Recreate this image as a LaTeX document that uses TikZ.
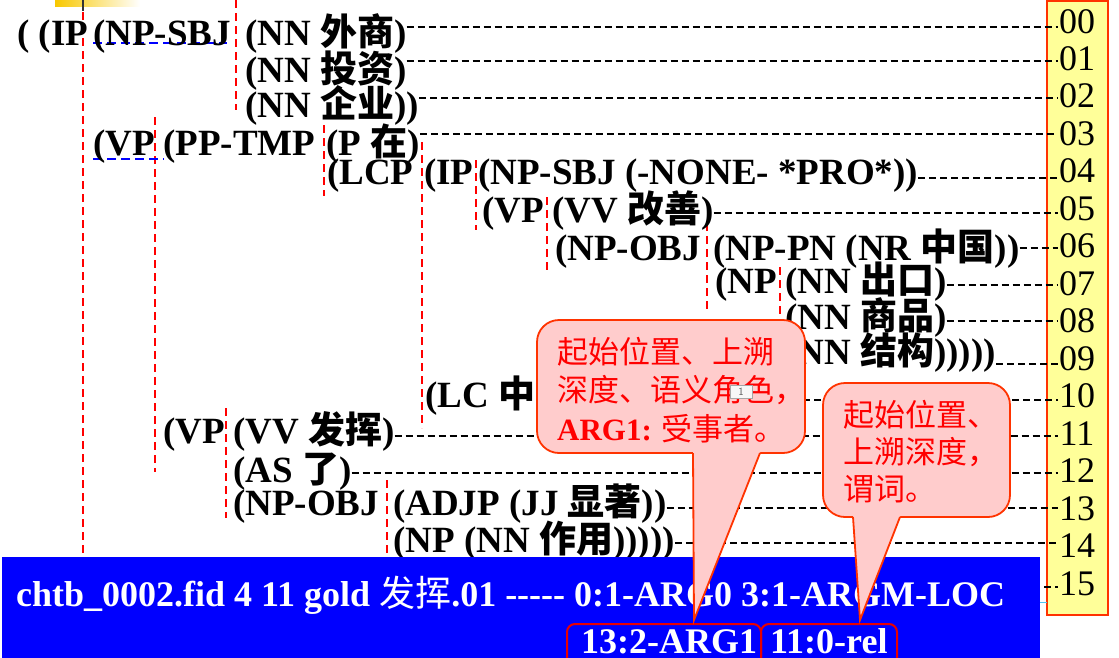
\documentclass[tikz,border=0pt]{standalone}
\usepackage{fontspec}
\setmainfont{Liberation Serif}
\newfontfamily\cjk{Noto Sans CJK SC}
\definecolor{cpink}{HTML}{FFCCCC}
\definecolor{cborder}{HTML}{FF3300}
\definecolor{ylw}{HTML}{FFFF99}
\definecolor{goldbar}{HTML}{F8C800}
\definecolor{pureblue}{HTML}{0000FF}
\definecolor{boxred}{HTML}{E80000}
\newcommand{\zh}[1]{{\cjk #1}}
\begin{document}
\begin{tikzpicture}[x=1pt,y=-1pt,
  tt/.style={inner sep=0pt, anchor=base west, font=\fontsize{37}{42}\selectfont\bfseries},
  num/.style={inner sep=1pt, anchor=base, font=\fontsize{36}{40}\selectfont},
  hdash/.style={draw=black, line width=1.6pt, dash pattern=on 7pt off 4pt},
  vdash/.style={draw=red, line width=2pt, dash pattern=on 8pt off 5pt},
  udash/.style={draw=blue, line width=1.8pt, dash pattern=on 9pt off 5pt},
  callbox/.style={draw=cborder, fill=cpink, line width=1.8pt, rounded corners=22pt},
  ctext/.style={inner sep=0pt, anchor=base west, text=red, font=\fontsize{31}{36}\selectfont\cjk},
  btext/.style={inner sep=0pt, anchor=base west, text=white, font=\fontsize{36}{40}\selectfont\bfseries},
  rbox/.style={draw=boxred, line width=2pt, rounded corners=8pt, inner sep=0pt}]
\useasboundingbox (0,0) rectangle (1119,657);
\clip (0,0) rectangle (1119,657);
\fill[white] (0,0) rectangle (1119,657);

% top decoration
\shade[left color=goldbar, right color=white] (55,0) rectangle (140,6);
\draw[line width=2.5pt, black!80] (83,0) -- (83,11);

% yellow number column
\draw[fill=ylw, draw=cborder, line width=1.5pt] (1047,0.8) rectangle (1108,615);
\foreach \i/\lab in {0/00,1/01,2/02,3/03,4/04,5/05,6/06,7/07,8/08,9/09,10/10,11/11,12/12,13/13,14/14,15/15}
  \node[num] (n\lab) at (1077,{33+37.47*\i}) {\lab};

% red dashed verticals
\draw[vdash] (83,12) -- (83,560);
\draw[vdash] (236,0) -- (236,110);
\draw[vdash] (155,117) -- (155,472);
\draw[vdash] (324,125) -- (324,196);
\draw[vdash] (422,142) -- (422,428);
\draw[vdash] (476,160) -- (476,230);
\draw[vdash] (547,197) -- (547,272);
\draw[vdash] (707,223) -- (707,312);
\draw[vdash] (780,267) -- (780,330);
\draw[vdash] (226,408) -- (226,518);
\draw[vdash] (387,480) -- (387,560);

% blue dashed underlines
\draw[udash] (93,43) -- (227,43);
\draw[udash] (93,159) -- (164,159);

% tree text
\node[tt] (t00a) at (17,45) {( (IP};
\node[tt] (t00b) at (93,45) {(NP-SBJ};
\node[tt] (t00c) at (245,45) {(NN \zh{外商})};
\node[tt] (t01) at (245,82) {(NN \zh{投资})};
\node[tt] (t02) at (245,117) {(NN \zh{企业}))};
\node[tt] (t03a) at (93,155) {(VP};
\node[tt] (t03b) at (163,155) {(PP-TMP};
\node[tt] (t03c) at (326,155) {(P \zh{在})};
\node[tt] (t04a) at (327,184) {(LCP};
\node[tt] (t04b) at (424,184) {(IP};
\node[tt] (t04c) at (478,184) {(NP-SBJ (-NONE- *PRO*))};
\node[tt] (t05a) at (482,222) {(VP};
\node[tt] (t05b) at (552,222) {(VV \zh{改善})};
\node[tt] (t06a) at (555,260) {(NP-OBJ};
\node[tt] (t06b) at (713,260) {(NP-PN (NR \zh{中国}))};
\node[tt] (t07a) at (715,293) {(NP};
\node[tt] (t07b) at (785,293) {(NN \zh{出口})};
\node[tt] (t08) at (785,329) {(NN \zh{商品})};
\node[tt] (t09) at (785,364) {(NN \zh{结构})))))};
\node[tt] (t10) at (425,407) {(LC \zh{中})))};
\node[tt] (t11a) at (163,443) {(VP};
\node[tt] (t11b) at (233,443) {(VV \zh{发挥})};
\node[tt] (t12) at (233,482) {(AS \zh{了})};
\node[tt] (t13a) at (233,515) {(NP-OBJ};
\node[tt] (t13b) at (393,515) {(ADJP (JJ \zh{显著}))};
\node[tt] (t14) at (393,552) {(NP (NN \zh{作用})))))};

% horizontal dashed leaders
\coordinate (y00) at (0,27);  \coordinate (y01) at (0,61);
\coordinate (y02) at (0,98);  \coordinate (y03) at (0,134);
\coordinate (y04) at (0,178); \coordinate (y05) at (0,213);
\coordinate (y06) at (0,248); \coordinate (y07) at (0,285);
\coordinate (y08) at (0,321); \coordinate (y09) at (0,364);
\coordinate (y10) at (0,400); \coordinate (y11) at (0,436);
\coordinate (y12) at (0,473); \coordinate (y13) at (0,508);
\coordinate (y14) at (0,543); \coordinate (s15) at (1000,587);
\draw[hdash] (t00c.east |- y00) -- (n00.west |- y00);
\draw[hdash] (t01.east |- y01) -- (n01.west |- y01);
\draw[hdash] (t02.east |- y02) -- (n02.west |- y02);
\draw[hdash] (t03c.east |- y03) -- (n03.west |- y03);
\draw[hdash] (t04c.east |- y04) -- (n04.west |- y04);
\draw[hdash] (t05b.east |- y05) -- (n05.west |- y05);
\draw[hdash] (t06b.east |- y06) -- (n06.west |- y06);
\draw[hdash] (t07b.east |- y07) -- (n07.west |- y07);
\draw[hdash] (t08.east |- y08) -- (n08.west |- y08);
\draw[hdash] (t09.east |- y09) -- (n09.west |- y09);
\draw[hdash] (t10.east |- y10) -- (n10.west |- y10);
\draw[hdash] (t11b.east |- y11) -- (n11.west |- y11);
\draw[hdash] (t12.east |- y12) -- (n12.west |- y12);
\draw[hdash] (t13b.east |- y13) -- (n13.west |- y13);
\draw[hdash] (t14.east |- y14) -- (n14.west |- y14);
\draw[hdash] (s15) -- (n15.west |- s15);

% blue bar
\fill[pureblue] (2,557) rectangle (1040,660);
\draw[cyan!70, line width=1pt] (1040,602) -- (1047,602);
\node[btext] (bt) at (16,606) {chtb\_0002.fid 4 11 gold {\cjk\mdseries 发挥}.01 -{}-{}-{}-{}- 0:1-ARG0 3:1-ARGM-LOC};
\node[rbox, anchor=north west, minimum width=194pt, minimum height=60pt] (b1) at (566,623) {};
\node[btext] (b1t) at (581,653) {13:2-ARG1};
\node[rbox, anchor=north west, minimum width=136pt, minimum height=60pt] (b2) at (760,623) {};
\node[btext] (b2t) at (770,653) {11:0-rel};

% callout 1
\draw[callbox] (537,320) rectangle (805,453);
\fill[cpink] (693,449) -- (693,453) -- (694,620) -- (760,453) -- (760,449) -- cycle;
\draw[cborder, line width=1.8pt, line join=miter] (693,453) -- (694,620) -- (760,453);
\node[ctext] (c1a) at (557,363) {起始位置、上溯};
\node[ctext] (c1b) at (557,401) {深度、语义角色，};
\node[ctext] (c1c) at (557,440) {{\rmfamily\bfseries ARG1:} 受事者。};
\node[draw=gray!70, fill=gray!6, inner sep=0pt, minimum width=22pt, minimum height=13pt,
      font=\fontsize{11}{12}\selectfont\sffamily, text=gray!70!black] (m1) at (741,391.5) {1};

% callout 2
\draw[callbox] (823,383) rectangle (1010,517);
\fill[cpink] (853,513) -- (853,517) -- (860,620) -- (900,517) -- (900,513) -- cycle;
\draw[cborder, line width=1.8pt, line join=miter] (853,517) -- (860,620) -- (900,517);
\node[ctext] (c2a) at (843,426) {起始位置、};
\node[ctext] (c2b) at (843,463) {上溯深度，};
\node[ctext] (c2c) at (843,500) {谓词。};
\end{tikzpicture}
\end{document}
